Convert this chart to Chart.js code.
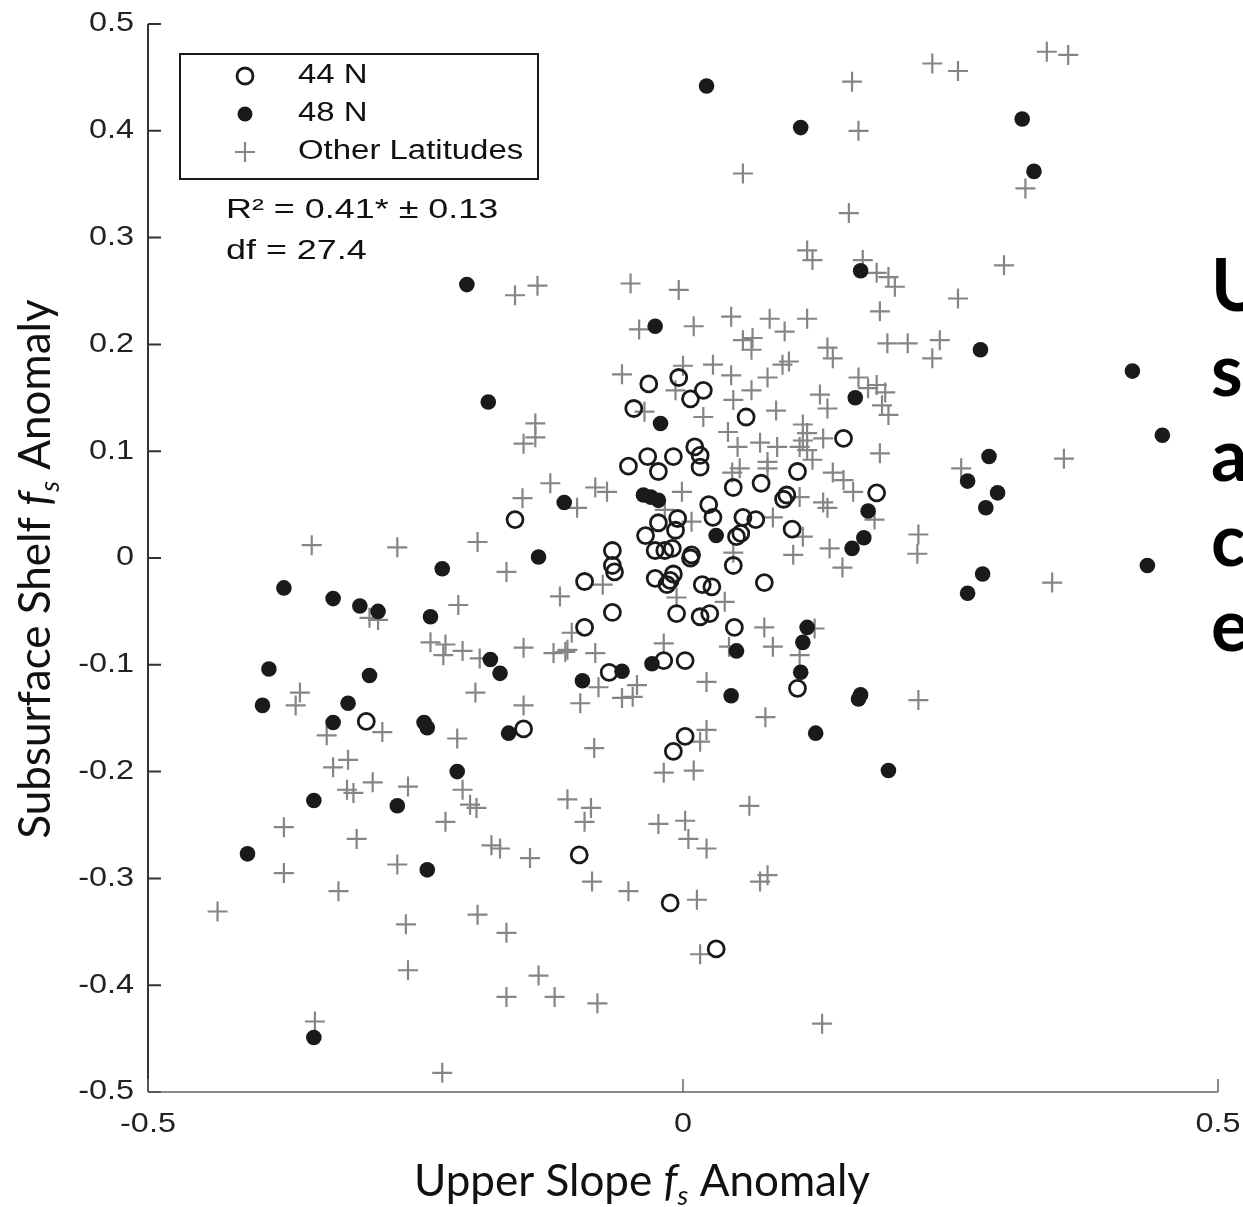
<!DOCTYPE html>
<html>
<head>
<meta charset="utf-8">
<script src="https://cdn.jsdelivr.net/npm/chart.js@4.4.1/dist/chart.umd.min.js"></script>
<style>
  html, body { margin: 0; padding: 0; background: #fff; overflow: hidden; }
  canvas { display: block; }
</style>
</head>
<body>
<canvas id="fs-chart" width="1243" height="1207"></canvas>
<script>
/* upper slope vs subsurface shelf f_s anomalies, by latitude */

// 44 N (open circles)
const lat44X = [-0.004, 0.019, -0.032, 0.007, -0.046, 0.059, 0.150, -0.033, -0.009, 0.011,
  0.016, 0.016, -0.051, -0.023, 0.107, 0.073, 0.047, 0.094, 0.097, 0.181,
  0.024, 0.028, 0.056, 0.068, 0.102, -0.005, -0.023, -0.007, -0.035, 0.050,
  0.054, -0.066, -0.026, -0.017, -0.010, 0.007, 0.008, -0.066, -0.064, -0.026,
  -0.009, -0.012, 0.018, 0.027, 0.047, 0.076, -0.092, -0.015, -0.066, -0.006,
  0.016, 0.025, -0.092, 0.048, -0.018, 0.002, -0.069, 0.107, 0.002, -0.009,
  -0.157, -0.296, -0.149, -0.097, -0.012, 0.031];
const lat44Y = [0.169, 0.157, 0.163, 0.149, 0.140, 0.132, 0.112, 0.095, 0.095, 0.104,
  0.096, 0.085, 0.086, 0.081, 0.081, 0.070, 0.066, 0.055, 0.059, 0.061,
  0.050, 0.038, 0.038, 0.036, 0.027, 0.037, 0.033, 0.026, 0.021, 0.020,
  0.023, 0.007, 0.007, 0.007, 0.009, 0.000, 0.003, -0.007, -0.013, -0.019,
  -0.015, -0.021, -0.025, -0.027, -0.007, -0.023, -0.022, -0.025, -0.051, -0.052,
  -0.055, -0.052, -0.065, -0.065, -0.096, -0.096, -0.107, -0.122, -0.167, -0.181,
  0.036, -0.153, -0.160, -0.278, -0.323, -0.366];

// 48 N (filled dots)
const lat48X = [0.022, 0.110, 0.317, 0.328, -0.202, 0.166, -0.026, -0.182, 0.278, 0.420,
  0.448, 0.161, -0.021, -0.111, -0.037, -0.030, -0.023, 0.286, 0.173, 0.266,
  0.294, 0.283, 0.158, 0.169, 0.031, -0.135, -0.225, -0.373, -0.327, -0.302,
  -0.285, -0.236, 0.434, 0.280, 0.266, 0.116, 0.112, -0.180, -0.171, -0.387,
  -0.293, -0.094, -0.057, -0.029, 0.050, 0.110, -0.393, -0.313, -0.327, 0.045,
  0.166, 0.164, 0.124, -0.163, -0.242, -0.239, 0.192, -0.211, -0.345, -0.267,
  -0.407, -0.239, -0.345];
const lat48Y = [0.442, 0.403, 0.411, 0.362, 0.256, 0.269, 0.217, 0.146, 0.195, 0.175,
  0.115, 0.150, 0.126, 0.052, 0.059, 0.057, 0.054, 0.095, 0.044, 0.072,
  0.061, 0.047, 0.009, 0.019, 0.021, 0.001, -0.010, -0.028, -0.038, -0.045,
  -0.050, -0.055, -0.007, -0.015, -0.033, -0.065, -0.079, -0.095, -0.108, -0.104,
  -0.110, -0.115, -0.106, -0.099, -0.087, -0.107, -0.138, -0.136, -0.154, -0.129,
  -0.128, -0.132, -0.164, -0.164, -0.154, -0.159, -0.199, -0.200, -0.227, -0.232,
  -0.277, -0.292, -0.449];

// other latitudes (grey crosses)
const otherX = [0.158, 0.164, 0.056, 0.155, 0.233, 0.257, 0.340, 0.360, 0.320, 0.300,
  0.257, 0.240, 0.233, 0.210, 0.191, 0.184, 0.198, 0.192, 0.181, 0.168,
  0.116, 0.121, -0.157, -0.136, -0.049, -0.004, 0.045, 0.081, 0.116, 0.010,
  -0.041, 0.095, 0.056, 0.065, 0.064, 0.135, 0.140, 0.093, 0.099, 0.028,
  0.000, -0.057, 0.045, 0.079, 0.164, 0.173, 0.181, 0.189, 0.186, 0.192,
  0.128, 0.135, -0.007, 0.064, 0.047, -0.036, 0.019, 0.087, 0.112, 0.116,
  0.112, 0.131, 0.042, 0.051, 0.072, 0.088, 0.109, 0.116, 0.121, 0.184,
  0.079, 0.079, 0.053, 0.046, 0.140, 0.150, 0.159, 0.109, 0.131, 0.135,
  0.179, 0.220, 0.112, 0.137, 0.219, 0.103, 0.149, 0.047, -0.001, -0.017,
  0.008, 0.084, -0.124, -0.082, -0.071, -0.099, -0.150, -0.138, -0.138, -0.149,
  0.260, 0.356, 0.345, 0.220, -0.347, -0.267, -0.192, -0.165, -0.115, -0.210,
  -0.293, -0.285, -0.236, -0.222, -0.224, -0.206, -0.190, -0.149, -0.121, -0.110,
  -0.194, -0.149, -0.358, -0.362, -0.333, -0.281, -0.211, -0.327, -0.313, -0.290,
  -0.257, -0.314, -0.308, -0.206, -0.199, -0.193, -0.373, -0.305, -0.222, -0.179,
  -0.171, -0.143, -0.267, -0.373, -0.322, -0.435, -0.259, -0.192, -0.165, -0.257,
  -0.135, -0.165, -0.120, -0.080, -0.344, -0.225, -0.108, -0.086, -0.092, -0.085,
  -0.051, -0.023, 0.002, 0.005, 0.022, -0.018, 0.010, 0.062, 0.079, 0.072,
  0.013, 0.016, 0.130, -0.075, -0.006, 0.039, -0.104, -0.108, -0.082, 0.076,
  0.084, 0.109, 0.043, -0.018, -0.079, -0.096, -0.057, -0.043, -0.047, 0.022,
  0.077, 0.022, 0.016, -0.083, 0.123];
const otherY = [0.446, 0.400, 0.360, 0.323, 0.463, 0.456, 0.474, 0.471, 0.346, 0.274,
  0.243, 0.204, 0.187, 0.201, 0.201, 0.231, 0.254, 0.263, 0.267, 0.279,
  0.288, 0.279, 0.246, 0.255, 0.257, 0.251, 0.226, 0.224, 0.224, 0.217,
  0.214, 0.212, 0.204, 0.206, 0.195, 0.197, 0.187, 0.181, 0.184, 0.181,
  0.180, 0.172, 0.171, 0.169, 0.169, 0.159, 0.162, 0.155, 0.143, 0.134,
  0.153, 0.140, 0.157, 0.157, 0.148, 0.137, 0.132, 0.138, 0.125, 0.117,
  0.110, 0.112, 0.118, 0.104, 0.108, 0.104, 0.104, 0.101, 0.092, 0.098,
  0.090, 0.084, 0.084, 0.080, 0.080, 0.073, 0.062, 0.057, 0.052, 0.047,
  0.036, 0.022, 0.020, 0.009, 0.004, 0.003, -0.009, 0.005, 0.062, 0.045,
  0.034, 0.038, 0.070, 0.066, 0.062, 0.047, 0.056, 0.126, 0.113, 0.107,
  0.084, 0.093, -0.023, -0.133, 0.012, 0.010, 0.015, -0.013, -0.036, -0.044,
  -0.056, -0.058, -0.079, -0.081, -0.091, -0.087, -0.094, -0.084, -0.089, -0.088,
  -0.126, -0.138, -0.126, -0.138, -0.166, -0.163, -0.169, -0.196, -0.189, -0.210,
  -0.214, -0.217, -0.220, -0.217, -0.231, -0.234, -0.252, -0.263, -0.247, -0.269,
  -0.272, -0.281, -0.287, -0.295, -0.312, -0.331, -0.343, -0.334, -0.351, -0.386,
  -0.391, -0.411, -0.411, -0.417, -0.434, -0.482, -0.226, -0.234, -0.247, -0.303,
  -0.312, -0.249, -0.246, -0.263, -0.272, -0.201, -0.199, -0.232, -0.297, -0.303,
  -0.320, -0.371, -0.436, -0.025, -0.037, -0.041, -0.070, -0.086, -0.089, -0.065,
  -0.083, -0.091, -0.083, -0.080, -0.121, -0.136, -0.131, -0.119, -0.130, -0.116,
  -0.149, -0.161, -0.172, -0.178, -0.066];

const xTicks = [-0.5, 0, 0.5];
const xTickLabels = ['-0.5', '0', '0.5'];
const yTicks = [-0.5, -0.4, -0.3, -0.2, -0.1, 0, 0.1, 0.2, 0.3, 0.4, 0.5];
const yTickLabels = ['-0.5', '-0.4', '-0.3', '-0.2', '-0.1', '0', '0.1', '0.2', '0.3', '0.4', '0.5'];

const legendLabels = ['44 N', '48 N', 'Other Latitudes'];
const statLines = ['R\u00b2 = 0.41* \u00b1 0.13', 'df = 27.4'];
const sideLetters = ['U', 's', 'a', 'c', 'e'];

const INK = '#1a1a1a';
const GREY = '#858585';
const FIG_FONT = "'Liberation Sans', Arial, sans-serif";
const SLIDE_FONT = "Lato, 'Open Sans', sans-serif";

const pts = (xs, ys) => xs.map((x, i) => ({ x, y: ys[i] }));

// figure text is drawn stretched sideways
function wideText(ctx, str, x, y, align, sx) {
  ctx.save();
  ctx.translate(x, y);
  ctx.scale(sx, 1);
  ctx.textAlign = align;
  ctx.fillText(str, 0, 0);
  ctx.restore();
}

// "<pre> f_s <post>" with italic f and subscript s, centred on 0
function titleRuns(ctx, pre, post, size) {
  const runs = [
    { t: pre, f: size + 'px ' + SLIDE_FONT, dy: 0 },
    { t: 'f', f: 'italic ' + size + 'px ' + SLIDE_FONT, dy: 0 },
    { t: 's', f: 'italic ' + Math.round(size * 0.62) + 'px ' + SLIDE_FONT, dy: size * 0.2 },
    { t: post, f: size + 'px ' + SLIDE_FONT, dy: 0 }
  ];
  let w = 0;
  runs.forEach(r => { ctx.font = r.f; r.w = ctx.measureText(r.t).width; w += r.w; });
  let x = -w / 2;
  ctx.textAlign = 'left';
  ctx.textBaseline = 'alphabetic';
  runs.forEach(r => { ctx.font = r.f; ctx.fillText(r.t, x, r.dy); x += r.w; });
}

function markOpen(ctx, x, y) {
  ctx.beginPath(); ctx.arc(x, y, 8, 0, Math.PI * 2);
  ctx.lineWidth = 2.8; ctx.strokeStyle = INK; ctx.stroke();
}
function markFilled(ctx, x, y) {
  ctx.beginPath(); ctx.arc(x, y, 7.5, 0, Math.PI * 2);
  ctx.fillStyle = INK; ctx.fill();
}
function markCross(ctx, x, y) {
  ctx.beginPath();
  ctx.moveTo(x - 10, y); ctx.lineTo(x + 10, y);
  ctx.moveTo(x, y - 10); ctx.lineTo(x, y + 10);
  ctx.lineWidth = 2.2; ctx.strokeStyle = GREY; ctx.stroke();
}

const figurePlugin = {
  id: 'figure',
  afterDraw(chart) {
    const { ctx, chartArea: a, scales: { x, y } } = chart;
    ctx.save();

    // axes with inward ticks
    ctx.strokeStyle = '#333';
    ctx.lineWidth = 2;
    ctx.beginPath();
    ctx.moveTo(a.left, a.top); ctx.lineTo(a.left, a.bottom);
    yTicks.forEach(v => {
      const py = y.getPixelForValue(v);
      ctx.moveTo(a.left, py); ctx.lineTo(a.left + 13, py);
    });
    ctx.stroke();
    ctx.strokeStyle = '#666';
    ctx.lineWidth = 1.5;
    ctx.beginPath();
    ctx.moveTo(a.left, a.bottom); ctx.lineTo(a.right, a.bottom);
    xTicks.forEach(v => {
      const px = x.getPixelForValue(v);
      ctx.moveTo(px, a.bottom); ctx.lineTo(px, a.bottom - 13);
    });
    ctx.stroke();

    // tick labels
    ctx.fillStyle = '#222';
    ctx.font = '27px ' + FIG_FONT;
    ctx.textBaseline = 'middle';
    yTicks.forEach((v, i) => wideText(ctx, yTickLabels[i], a.left - 14, y.getPixelForValue(v), 'right', 1.2));
    xTicks.forEach((v, i) => wideText(ctx, xTickLabels[i], x.getPixelForValue(v), a.bottom + 33, 'center', 1.2));

    // legend box
    ctx.fillStyle = '#fff';
    ctx.fillRect(180, 54, 358, 125);
    ctx.strokeStyle = INK;
    ctx.lineWidth = 2;
    ctx.strokeRect(180, 54, 358, 125);
    const marks = [markOpen, markFilled, markCross];
    legendLabels.forEach((lab, i) => {
      const cy = 76 + i * 38;
      marks[i](ctx, 245, cy);
      ctx.fillStyle = '#111';
      ctx.font = '27px ' + FIG_FONT;
      ctx.textBaseline = 'middle';
      wideText(ctx, lab, 298, cy, 'left', 1.22);
    });
    statLines.forEach((s, i) => wideText(ctx, s, 226, 211 + i * 41, 'left', 1.33));

    // axis titles
    ctx.fillStyle = '#111';
    ctx.save();
    ctx.translate(642, 1196);
    titleRuns(ctx, 'Upper Slope ', ' Anomaly', 44);
    ctx.restore();
    ctx.save();
    ctx.translate(50, 569);
    ctx.rotate(-Math.PI / 2);
    titleRuns(ctx, 'Subsurface Shelf ', ' Anomaly', 44);
    ctx.restore();

    // slide text running off the right edge
    ctx.fillStyle = '#000';
    ctx.font = 'bold 72px ' + SLIDE_FONT;
    ctx.textAlign = 'left';
    ctx.textBaseline = 'alphabetic';
    sideLetters.forEach((c, i) => ctx.fillText(c, 1211, 311 + i * 85));

    ctx.restore();
  }
};

new Chart(document.getElementById('fs-chart'), {
  type: 'scatter',
  data: {
    datasets: [
      { label: legendLabels[0], data: pts(lat44X, lat44Y), order: 1,
        pointStyle: 'circle', pointRadius: 8, pointBorderWidth: 2.8,
        pointBorderColor: INK, pointBackgroundColor: 'rgba(0,0,0,0)',
        borderColor: INK, backgroundColor: 'rgba(0,0,0,0)' },
      { label: legendLabels[1], data: pts(lat48X, lat48Y), order: 2,
        pointStyle: 'circle', pointRadius: 7.8, pointBorderWidth: 0,
        pointBorderColor: INK, pointBackgroundColor: INK,
        borderColor: INK, backgroundColor: INK },
      { label: legendLabels[2], data: pts(otherX, otherY), order: 3,
        pointStyle: 'cross', pointRadius: 10, pointBorderWidth: 2.2,
        pointBorderColor: GREY, pointBackgroundColor: GREY,
        borderColor: GREY, backgroundColor: GREY }
    ]
  },
  options: {
    responsive: false,
    animation: false,
    devicePixelRatio: 1,
    events: [],
    layout: { padding: { left: 0, right: 25, top: 24, bottom: 0 } },
    plugins: { legend: { display: false }, tooltip: { enabled: false } },
    scales: {
      x: {
        type: 'linear', min: -0.5, max: 0.5,
        grid: { display: false }, border: { display: false },
        ticks: { display: false },
        afterBuildTicks: s => { s.ticks = xTicks.map(v => ({ value: v })); },
        afterFit: s => { s.height = 115; }
      },
      y: {
        type: 'linear', min: -0.5, max: 0.5,
        grid: { display: false }, border: { display: false },
        ticks: { display: false },
        afterBuildTicks: s => { s.ticks = yTicks.map(v => ({ value: v })); },
        afterFit: s => { s.width = 148; }
      }
    }
  },
  plugins: [figurePlugin]
});
</script>
</body>
</html>
